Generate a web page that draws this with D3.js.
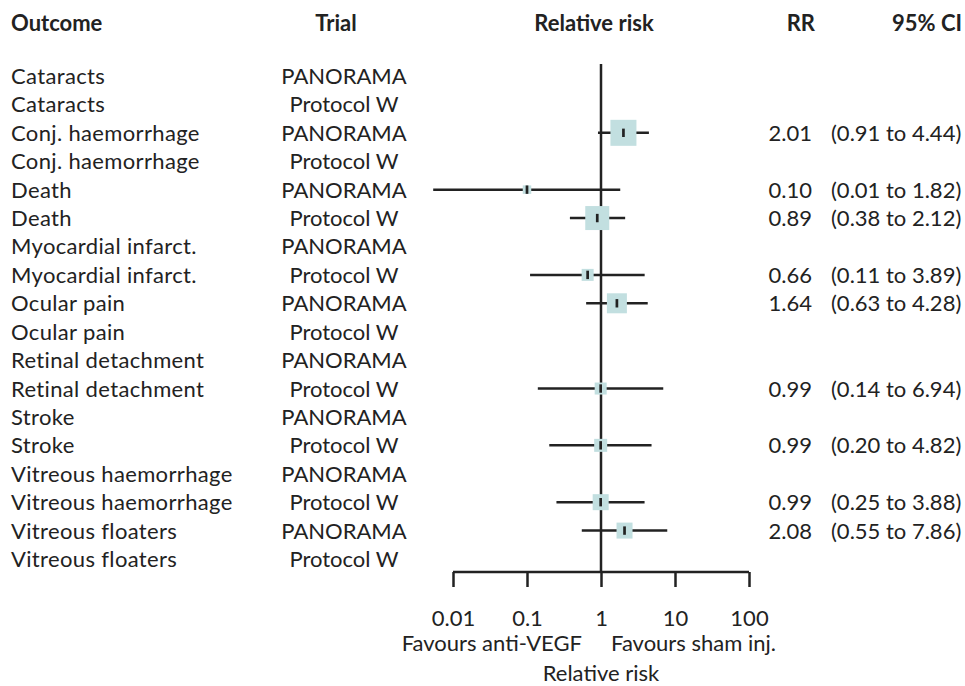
<!DOCTYPE html>
<html>
<head>
<meta charset="utf-8">
<script src="https://cdn.jsdelivr.net/npm/d3@7"></script>
<style>
  html, body { margin: 0; padding: 0; background: #fff; }
  svg { display: block; }
  text { font-family: Lato, "Noto Sans", sans-serif; fill: #222; }
</style>
</head>
<body>
<svg id="chart" width="965" height="686"></svg>
<script>
// Adverse outcomes, anti-VEGF vs sham injection
const outcomes = [
  "Cataracts", "Cataracts",
  "Conj. haemorrhage", "Conj. haemorrhage",
  "Death", "Death",
  "Myocardial infarct.", "Myocardial infarct.",
  "Ocular pain", "Ocular pain",
  "Retinal detachment", "Retinal detachment",
  "Stroke", "Stroke",
  "Vitreous haemorrhage", "Vitreous haemorrhage",
  "Vitreous floaters", "Vitreous floaters"
];
const trials = [
  "PANORAMA", "Protocol W", "PANORAMA", "Protocol W", "PANORAMA", "Protocol W",
  "PANORAMA", "Protocol W", "PANORAMA", "Protocol W", "PANORAMA", "Protocol W",
  "PANORAMA", "Protocol W", "PANORAMA", "Protocol W", "PANORAMA", "Protocol W"
];
// relative risk and 95% confidence limits (null = not estimable)
const rr    = [null, null, 2.01, null, 0.10, 0.89, null, 0.66, 1.64, null, null, 0.99, null, 0.99, null, 0.99, 2.08, null];
const lower = [null, null, 0.91, null, 0.0054, 0.38, null, 0.11, 0.63, null, null, 0.14, null, 0.20, null, 0.25, 0.55, null];
const upper = [null, null, 4.44, null, 1.82, 2.12, null, 3.89, 4.28, null, null, 6.94, null, 4.82, null, 3.88, 7.86, null];
// study weight, shown as marker size
const weight = [null, null, 26, null, 8.5, 24, null, 12, 20, null, null, 12, null, 13, null, 16, 16, null];

const tickValues = [0.01, 0.1, 1, 10, 100];
const tickLabels = ["0.01", "0.1", "1", "10", "100"];
const headers = ["Outcome", "Trial", "Relative risk", "RR", "95% CI"];
const favourLeft = "Favours anti-VEGF";
const favourRight = "Favours sham inj.";
const axisTitle = "Relative risk";

const rows = outcomes.map((o, i) => ({
  outcome: o, trial: trials[i], rr: rr[i], lo: lower[i], hi: upper[i], w: weight[i]
}));

const svg = d3.select("#chart");
const FS = 22;
const ink = "#222";
const boxFill = "#c2dfe0";

const x = d3.scaleLog().domain([0.01, 100]).range([453, 749]);
const y = d3.scalePoint().domain(d3.range(rows.length)).range([76, 559]);
const size = d3.scaleLinear().domain([0, 26]).range([0, 26]);
const axisY = 572;
const fmt = d3.format(".2f");

// column headers
const headerY = 31;
const hx = [{x: 11, a: "start"}, {x: 336, a: "middle"}, {x: 594, a: "middle"}, {x: 815, a: "end"}, {x: 962, a: "end"}];
svg.append("g").selectAll("text").data(headers).join("text")
  .attr("x", (d, i) => hx[i].x).attr("y", headerY)
  .attr("text-anchor", (d, i) => hx[i].a)
  .attr("font-size", FS).attr("font-weight", 700)
  .text(d => d);

// row labels
const labels = svg.append("g").attr("font-size", FS);
labels.selectAll(".outcome").data(rows).join("text").attr("class", "outcome")
  .attr("x", 11).attr("y", (d, i) => y(i) + 8)
  .attr("letter-spacing", 0.35).text(d => d.outcome);
labels.selectAll(".trial").data(rows).join("text").attr("class", "trial")
  .attr("x", 344).attr("y", (d, i) => y(i) + 8).attr("text-anchor", "middle").text(d => d.trial);

const est = rows.map((d, i) => ({...d, i})).filter(d => d.rr != null);
labels.selectAll(".rr").data(est).join("text").attr("class", "rr")
  .attr("x", 812).attr("y", d => y(d.i) + 8).attr("text-anchor", "end").text(d => fmt(d.rr));
labels.selectAll(".ci").data(est).join("text").attr("class", "ci")
  .attr("x", 831).attr("y", d => y(d.i) + 8)
  .text(d => `(${fmt(d.lo)} to ${fmt(d.hi)})`);

// line of no effect
svg.append("line")
  .attr("x1", x(1)).attr("x2", x(1)).attr("y1", 64).attr("y2", axisY)
  .attr("stroke", ink).attr("stroke-width", 2.5);

// confidence intervals, weight boxes and point estimates
const marks = svg.append("g");
marks.selectAll(".ci-line").data(est).join("line").attr("class", "ci-line")
  .attr("x1", d => x(d.lo)).attr("x2", d => x(d.hi))
  .attr("y1", d => y(d.i)).attr("y2", d => y(d.i))
  .attr("stroke", ink).attr("stroke-width", 2.5);
marks.selectAll(".box").data(est).join("rect").attr("class", "box")
  .attr("x", d => x(d.rr) - size(d.w) / 2).attr("y", d => y(d.i) - size(d.w) / 2)
  .attr("width", d => size(d.w)).attr("height", d => size(d.w))
  .attr("fill", boxFill);
marks.selectAll(".est").data(est).join("line").attr("class", "est")
  .attr("x1", d => x(d.rr)).attr("x2", d => x(d.rr))
  .attr("y1", d => y(d.i) - 4.2).attr("y2", d => y(d.i) + 4.2)
  .attr("stroke", ink).attr("stroke-width", 2.7);

// log axis
const axis = d3.axisBottom(x).tickValues(tickValues).tickSize(15)
  .tickFormat((d, i) => tickLabels[i]).tickPadding(12);
const ag = svg.append("g").attr("transform", `translate(0,${axisY})`).call(axis);
ag.select(".domain").attr("d", `M${x(0.01)},0H${x(100)}`).attr("stroke", ink).attr("stroke-width", 2.5);
ag.selectAll(".tick line").attr("stroke", ink).attr("stroke-width", 2.5);
ag.selectAll(".tick text").attr("font-size", FS).attr("fill", ink)
  .attr("font-family", "Lato, 'Noto Sans', sans-serif")
  .attr("dy", null).attr("y", 54);

// direction labels and axis title
svg.append("text").attr("x", x(1) - 19).attr("y", 651).attr("text-anchor", "end")
  .attr("font-size", FS).text(favourLeft);
svg.append("text").attr("x", x(1) + 10).attr("y", 651)
  .attr("font-size", FS).text(favourRight);
svg.append("text").attr("x", x(1)).attr("y", 681).attr("text-anchor", "middle")
  .attr("font-size", FS).text(axisTitle);
</script>
</body>
</html>
